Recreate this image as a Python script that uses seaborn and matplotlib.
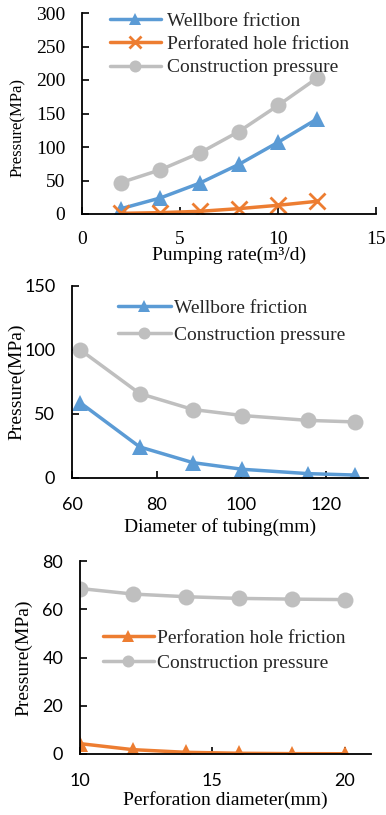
import numpy as np
import pandas as pd
import matplotlib
matplotlib.use("Agg")
import matplotlib.pyplot as plt
import seaborn as sns

# ---- data ----
rate = [2, 4, 6, 8, 10, 12]
rate_wellbore = [8, 24, 46, 74, 107, 142]
rate_perf = [1, 2, 4, 8, 13, 19]
rate_constr = [47, 66, 91, 123, 162, 203]

tubing = [62, 76, 88.6, 100.3, 115.9, 127]
tubing_wellbore = [58.7, 24.3, 12.0, 6.8, 3.4, 2.3]
tubing_constr = [100, 66, 53.5, 48.8, 45, 43.8]

perf_d = [10, 12, 14, 16, 18, 20]
perfd_perf = [4.3, 1.8, 0.7, 0.3, 0.15, 0.1]
perfd_constr = [68.6, 66.3, 65.2, 64.5, 64.2, 64.0]

BLUE = "#5B9BD5"
ORANGE = "#ED7D31"
GRAY = "#BFBFBF"

sns.set_theme(style="white")
plt.rcParams["font.family"] = ["Liberation Serif", "DejaVu Serif"]

SERIF = "Liberation Serif"
SANS = "Lato"
FS = 14

fig = plt.figure(figsize=(3.86, 8.15), dpi=100)
W, H = 386, 815


def add_ax(l, r, t, b):
    return fig.add_axes([l / W, 1 - b / H, (r - l) / W, (b - t) / H])


def style(ax, tickfont, tfs, xpad=14, ypad=12):
    sns.despine(ax=ax)
    for s in ("left", "bottom"):
        ax.spines[s].set_color("black")
        ax.spines[s].set_linewidth(1.3)
    ax.tick_params(axis="both", direction="in", length=5, width=1.2, color="black",
                   left=True, bottom=True)
    ax.tick_params(axis="x", pad=xpad)
    ax.tick_params(axis="y", pad=ypad)
    for lab in ax.get_xticklabels() + ax.get_yticklabels():
        lab.set_family(tickfont)
        lab.set_fontsize(tfs)
        lab.set_color("black")


def line(ax, x, y, color, marker, label, ms=11.5):
    kw = dict(x=x, y=y, color=color, marker=marker, markersize=ms, linewidth=2.5,
              label=label, ax=ax, markeredgecolor=color)
    kw["markeredgewidth"] = 2 if marker == "x" else 0
    sns.lineplot(**kw)


# ---- top panel ----
ax1 = add_ax(82, 376, 13, 214)
line(ax1, rate, rate_wellbore, BLUE, "^", "Wellbore friction")
line(ax1, rate, rate_perf, ORANGE, "x", "Perforated hole friction", ms=11)
line(ax1, rate, rate_constr, GRAY, "o", "Construction pressure")
ax1.set_xlim(0, 15)
ax1.set_ylim(0, 300)
ax1.set_xticks([0, 5, 10, 15])
ax1.set_yticks(range(0, 301, 50))
style(ax1, SERIF, FS, xpad=12)
ax1.set_xlabel("Pumping rate(m³/d)", fontsize=FS, family=SERIF, color="black")
ax1.set_ylabel("Pressure(MPa)", fontsize=12, family=SERIF, color="black")
ax1.xaxis.set_label_coords(0.5, -41 / 201)
ax1.xaxis.label.set_va("center")
ax1.yaxis.set_label_coords((18 - 82) / 294, 0.43)
ax1.yaxis.label.set_va("center")
ax1.legend(loc="upper left", bbox_to_anchor=(110 / W, 1 - 12 / H),
           bbox_transform=fig.transFigure, frameon=False,
           prop={"family": SERIF, "size": FS}, handlelength=2.6, markerscale=0.75,
           handletextpad=0.35, labelspacing=0.3, borderpad=0, borderaxespad=0)

# ---- middle panel ----
ax2 = add_ax(72, 368, 286, 478)
line(ax2, tubing, tubing_wellbore, BLUE, "^", "Wellbore friction")
line(ax2, tubing, tubing_constr, GRAY, "o", "Construction pressure")
ax2.set_xlim(60, 130)
ax2.set_ylim(0, 150)
ax2.set_xticks([60, 80, 100, 120])
ax2.set_yticks([0, 50, 100, 150])
style(ax2, SANS, 13)
ax2.set_xlabel("Diameter of tubing(mm)", fontsize=FS, family=SERIF, color="black")
ax2.set_ylabel("Pressure(MPa)", fontsize=FS, family=SERIF, color="black")
ax2.xaxis.set_label_coords(0.5, -49 / 192)
ax2.xaxis.label.set_va("center")
ax2.yaxis.set_label_coords((17 - 72) / 296, 0.5)
ax2.yaxis.label.set_va("center")
ax2.legend(loc="upper left", bbox_to_anchor=(118 / W, 1 - 299 / H),
           bbox_transform=fig.transFigure, frameon=False,
           prop={"family": SERIF, "size": FS}, handlelength=2.7, markerscale=0.75,
           handletextpad=0.2, labelspacing=0.5, borderpad=0, borderaxespad=0)

# ---- bottom panel ----
ax3 = add_ax(80, 371, 561, 754)
line(ax3, perf_d, perfd_perf, ORANGE, "^", "Perforation hole friction")
line(ax3, perf_d, perfd_constr, GRAY, "o", "Construction pressure")
ax3.set_xlim(10, 21)
ax3.set_ylim(0, 80)
ax3.set_xticks([10, 15, 20])
ax3.set_yticks(range(0, 81, 20))
style(ax3, SANS, 13)
ax3.set_xlabel("Perforation diameter(mm)", fontsize=FS, family=SERIF, color="black")
ax3.set_ylabel("Pressure(MPa)", fontsize=FS, family=SERIF, color="black")
ax3.xaxis.set_label_coords(0.5, -46 / 193)
ax3.xaxis.label.set_va("center")
ax3.yaxis.set_label_coords((24 - 80) / 291, 0.5)
ax3.yaxis.label.set_va("center")
ax3.legend(loc="upper left", bbox_to_anchor=(103 / W, 1 - 629 / H),
           bbox_transform=fig.transFigure, frameon=False,
           prop={"family": SERIF, "size": FS}, handlelength=2.6, markerscale=0.75,
           handletextpad=0.2, labelspacing=0.4, borderpad=0, borderaxespad=0)

fig.savefig("out.png", dpi=100)
